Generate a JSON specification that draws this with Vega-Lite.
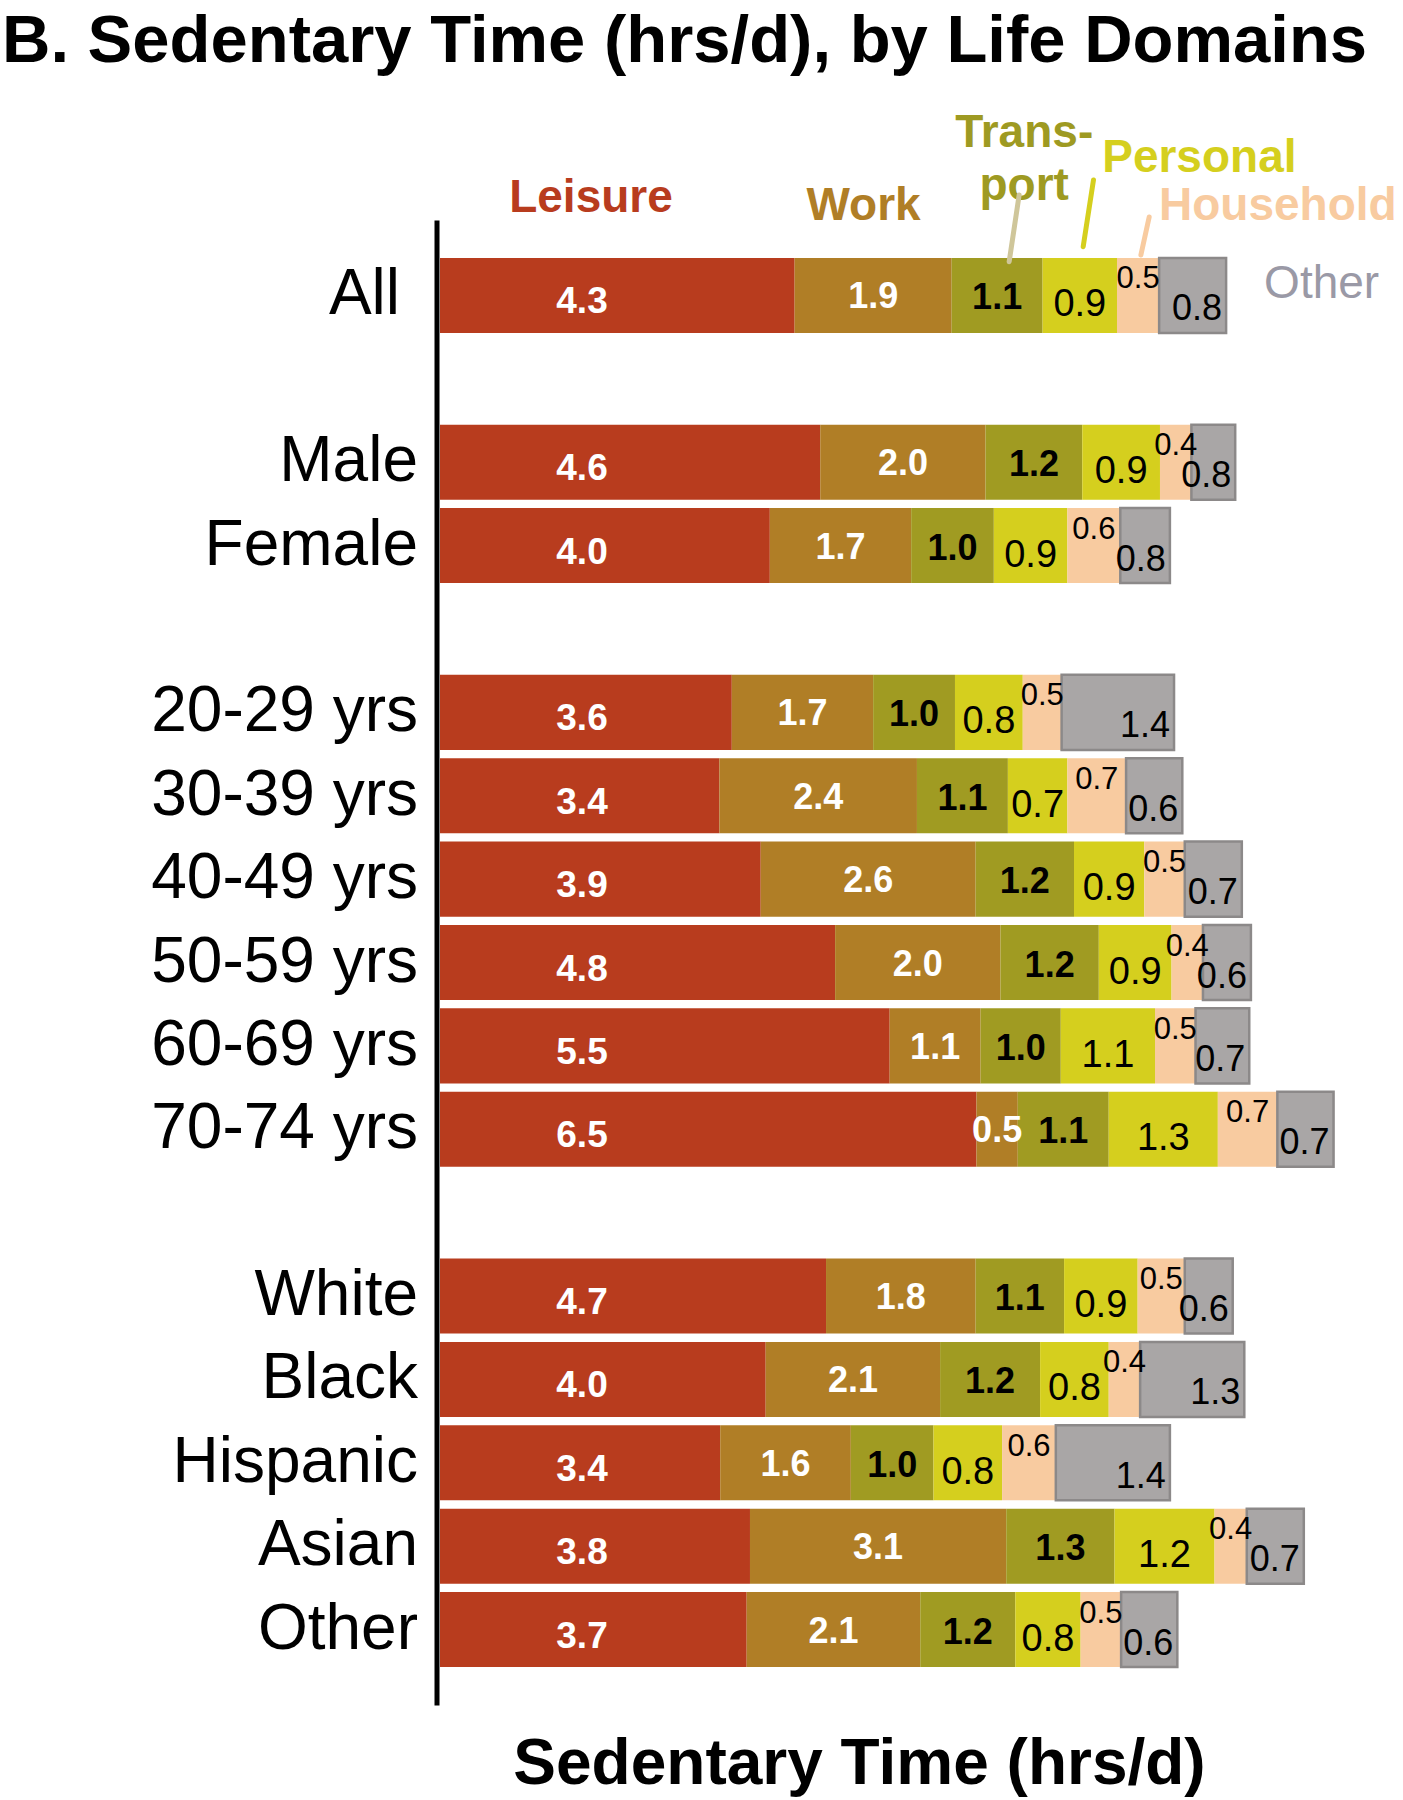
{
  "$schema": "https://vega.github.io/schema/vega-lite/v6.json",
  "autosize": {"type": "none"},
  "padding": {"left": 440, "top": 220, "right": 0, "bottom": 95},
  "width": 963,
  "height": 1485,
  "background": "white",
  "config": {"view": {"stroke": null}, "font": "Liberation Sans"},
  "title": {
    "text": "B. Sedentary Time (hrs/d), by Life Domains",
    "anchor": "start", "frame": "group", "dx": -438, "dy": 19,
    "fontSize": 67, "font": "Liberation Sans", "fontWeight": "bold", "color": "black",
    "baseline": "alphabetic", "offset": 0
  },
  "data": {"values": [
    {"label": "All", "cat": "Leisure", "value": 4.3, "hrs": 4.29}, {"label": "All", "cat": "Work", "value": 1.9, "hrs": 1.90}, {"label": "All", "cat": "Transport", "value": 1.1, "hrs": 1.10}, {"label": "All", "cat": "Personal", "value": 0.9, "hrs": 0.90}, {"label": "All", "cat": "Household", "value": 0.5, "hrs": 0.51}, {"label": "All", "cat": "Other", "value": 0.8, "hrs": 0.81},
    {"label": "Male", "cat": "Leisure", "value": 4.6, "hrs": 4.60}, {"label": "Male", "cat": "Work", "value": 2.0, "hrs": 2.00}, {"label": "Male", "cat": "Transport", "value": 1.2, "hrs": 1.17}, {"label": "Male", "cat": "Personal", "value": 0.9, "hrs": 0.94}, {"label": "Male", "cat": "Household", "value": 0.4, "hrs": 0.38}, {"label": "Male", "cat": "Other", "value": 0.8, "hrs": 0.53},
    {"label": "Female", "cat": "Leisure", "value": 4.0, "hrs": 3.99}, {"label": "Female", "cat": "Work", "value": 1.7, "hrs": 1.71}, {"label": "Female", "cat": "Transport", "value": 1.0, "hrs": 1.00}, {"label": "Female", "cat": "Personal", "value": 0.9, "hrs": 0.89}, {"label": "Female", "cat": "Household", "value": 0.6, "hrs": 0.64}, {"label": "Female", "cat": "Other", "value": 0.8, "hrs": 0.60},
    {"label": "20-29 yrs", "cat": "Leisure", "value": 3.6, "hrs": 3.53}, {"label": "20-29 yrs", "cat": "Work", "value": 1.7, "hrs": 1.71}, {"label": "20-29 yrs", "cat": "Transport", "value": 1.0, "hrs": 0.99}, {"label": "20-29 yrs", "cat": "Personal", "value": 0.8, "hrs": 0.82}, {"label": "20-29 yrs", "cat": "Household", "value": 0.5, "hrs": 0.47}, {"label": "20-29 yrs", "cat": "Other", "value": 1.4, "hrs": 1.36},
    {"label": "30-39 yrs", "cat": "Leisure", "value": 3.4, "hrs": 3.38}, {"label": "30-39 yrs", "cat": "Work", "value": 2.4, "hrs": 2.39}, {"label": "30-39 yrs", "cat": "Transport", "value": 1.1, "hrs": 1.10}, {"label": "30-39 yrs", "cat": "Personal", "value": 0.7, "hrs": 0.72}, {"label": "30-39 yrs", "cat": "Household", "value": 0.7, "hrs": 0.71}, {"label": "30-39 yrs", "cat": "Other", "value": 0.6, "hrs": 0.68},
    {"label": "40-49 yrs", "cat": "Leisure", "value": 3.9, "hrs": 3.88}, {"label": "40-49 yrs", "cat": "Work", "value": 2.6, "hrs": 2.60}, {"label": "40-49 yrs", "cat": "Transport", "value": 1.2, "hrs": 1.19}, {"label": "40-49 yrs", "cat": "Personal", "value": 0.9, "hrs": 0.85}, {"label": "40-49 yrs", "cat": "Household", "value": 0.5, "hrs": 0.49}, {"label": "40-49 yrs", "cat": "Other", "value": 0.7, "hrs": 0.69},
    {"label": "50-59 yrs", "cat": "Leisure", "value": 4.8, "hrs": 4.78}, {"label": "50-59 yrs", "cat": "Work", "value": 2.0, "hrs": 2.00}, {"label": "50-59 yrs", "cat": "Transport", "value": 1.2, "hrs": 1.19}, {"label": "50-59 yrs", "cat": "Personal", "value": 0.9, "hrs": 0.88}, {"label": "50-59 yrs", "cat": "Household", "value": 0.4, "hrs": 0.38}, {"label": "50-59 yrs", "cat": "Other", "value": 0.6, "hrs": 0.58},
    {"label": "60-69 yrs", "cat": "Leisure", "value": 5.5, "hrs": 5.44}, {"label": "60-69 yrs", "cat": "Work", "value": 1.1, "hrs": 1.10}, {"label": "60-69 yrs", "cat": "Transport", "value": 1.0, "hrs": 0.97}, {"label": "60-69 yrs", "cat": "Personal", "value": 1.1, "hrs": 1.14}, {"label": "60-69 yrs", "cat": "Household", "value": 0.5, "hrs": 0.49}, {"label": "60-69 yrs", "cat": "Other", "value": 0.7, "hrs": 0.65},
    {"label": "70-74 yrs", "cat": "Leisure", "value": 6.5, "hrs": 6.49}, {"label": "70-74 yrs", "cat": "Work", "value": 0.5, "hrs": 0.50}, {"label": "70-74 yrs", "cat": "Transport", "value": 1.1, "hrs": 1.10}, {"label": "70-74 yrs", "cat": "Personal", "value": 1.3, "hrs": 1.32}, {"label": "70-74 yrs", "cat": "Household", "value": 0.7, "hrs": 0.72}, {"label": "70-74 yrs", "cat": "Other", "value": 0.7, "hrs": 0.68},
    {"label": "White", "cat": "Leisure", "value": 4.7, "hrs": 4.67}, {"label": "White", "cat": "Work", "value": 1.8, "hrs": 1.81}, {"label": "White", "cat": "Transport", "value": 1.1, "hrs": 1.07}, {"label": "White", "cat": "Personal", "value": 0.9, "hrs": 0.89}, {"label": "White", "cat": "Household", "value": 0.5, "hrs": 0.57}, {"label": "White", "cat": "Other", "value": 0.6, "hrs": 0.58},
    {"label": "Black", "cat": "Leisure", "value": 4.0, "hrs": 3.94}, {"label": "Black", "cat": "Work", "value": 2.1, "hrs": 2.11}, {"label": "Black", "cat": "Transport", "value": 1.2, "hrs": 1.21}, {"label": "Black", "cat": "Personal", "value": 0.8, "hrs": 0.83}, {"label": "Black", "cat": "Household", "value": 0.4, "hrs": 0.38}, {"label": "Black", "cat": "Other", "value": 1.3, "hrs": 1.26},
    {"label": "Hispanic", "cat": "Leisure", "value": 3.4, "hrs": 3.39}, {"label": "Hispanic", "cat": "Work", "value": 1.6, "hrs": 1.58}, {"label": "Hispanic", "cat": "Transport", "value": 1.0, "hrs": 1.00}, {"label": "Hispanic", "cat": "Personal", "value": 0.8, "hrs": 0.83}, {"label": "Hispanic", "cat": "Household", "value": 0.6, "hrs": 0.65}, {"label": "Hispanic", "cat": "Other", "value": 1.4, "hrs": 1.38},
    {"label": "Asian", "cat": "Leisure", "value": 3.8, "hrs": 3.75}, {"label": "Asian", "cat": "Work", "value": 3.1, "hrs": 3.10}, {"label": "Asian", "cat": "Transport", "value": 1.3, "hrs": 1.31}, {"label": "Asian", "cat": "Personal", "value": 1.2, "hrs": 1.21}, {"label": "Asian", "cat": "Household", "value": 0.4, "hrs": 0.39}, {"label": "Asian", "cat": "Other", "value": 0.7, "hrs": 0.69},
    {"label": "Other", "cat": "Leisure", "value": 3.7, "hrs": 3.71}, {"label": "Other", "cat": "Work", "value": 2.1, "hrs": 2.10}, {"label": "Other", "cat": "Transport", "value": 1.2, "hrs": 1.15}, {"label": "Other", "cat": "Personal", "value": 0.8, "hrs": 0.79}, {"label": "Other", "cat": "Household", "value": 0.5, "hrs": 0.49}, {"label": "Other", "cat": "Other", "value": 0.6, "hrs": 0.68}
  ]},
  "transform": [{"stack": "hrs", "groupby": ["label"], "as": ["start", "end"]}],
  "encoding": {
    "y": {
      "field": "label", "type": "nominal",
      "scale": {
        "domain": ["All", " ", "Male", "Female", "  ", "20-29 yrs", "30-39 yrs", "40-49 yrs", "50-59 yrs", "60-69 yrs", "70-74 yrs", "   ", "White", "Black", "Hispanic", "Asian", "Other"],
        "paddingInner": 0.1, "paddingOuter": 0.455
      },
      "axis": {
        "title": null, "domainColor": "black", "domainWidth": 5, "ticks": false, "tickSize": 0,
        "labelFontSize": 64, "labelFont": "Liberation Sans", "labelColor": "black",
        "labelPadding": {"condition": {"test": "datum.value === 'All'", "value": 37}, "value": 19},
        "offset": 3.5, "labelLimit": 0, "labelOverlap": false
      }
    }
  },
  "layer": [
    {
      "mark": {"type": "bar", "strokeWidth": 2.5},
      "encoding": {
        "x": {
          "field": "start", "type": "quantitative",
          "scale": {"domain": [0, 11.65], "nice": false, "zero": true},
          "axis": {
            "orient": "bottom", "domain": false, "ticks": false, "labels": false, "grid": false,
            "title": "Sedentary Time (hrs/d)", "titleFontSize": 64, "titleFontWeight": "bold",
            "titleColor": "black", "titleFont": "Liberation Sans",
            "titleX": 419, "titleY": 78, "titleBaseline": "alphabetic", "titleAlign": "center"
          }
        },
        "x2": {"field": "end"},
        "color": {
          "field": "cat", "type": "nominal", "legend": null,
          "scale": {
            "domain": ["Leisure", "Work", "Transport", "Personal", "Household", "Other"],
            "range": ["#B83C1E", "#B07E26", "#A09B22", "#D5CF1E", "#F8CBA0", "#A9A6A6"]
          }
        },
        "stroke": {"condition": {"test": "datum.cat === 'Other'", "value": "#8C8989"}, "value": "transparent"}
      }
    },
    {
      "transform": [{"filter": "datum.cat === 'Leisure'"}],
      "mark": {"type": "text", "fontWeight": "bold", "fontSize": 37, "color": "white", "align": "center", "baseline": "middle", "dx": 142, "dy": 7},
      "encoding": {
        "x": {"field": "start", "type": "quantitative"},
        "text": {"field": "value", "type": "quantitative", "format": ".1f"}
      }
    },
    {
      "transform": [{"filter": "datum.cat === 'Work'"}, {"fold": ["start", "end"], "as": ["edge", "pos"]}],
      "mark": {"type": "text", "fontWeight": "bold", "fontSize": 36, "color": "white", "align": "center", "baseline": "middle", "dy": 2},
      "encoding": {
        "x": {"field": "pos", "type": "quantitative", "aggregate": "mean"},
        "text": {"field": "value", "type": "quantitative", "aggregate": "max", "format": ".1f"}
      }
    },
    {
      "transform": [{"filter": "datum.cat === 'Transport'"}, {"fold": ["start", "end"], "as": ["edge", "pos"]}],
      "mark": {"type": "text", "fontWeight": "bold", "fontSize": 36, "color": "black", "align": "center", "baseline": "middle", "dy": 3},
      "encoding": {
        "x": {"field": "pos", "type": "quantitative", "aggregate": "mean"},
        "text": {"field": "value", "type": "quantitative", "aggregate": "max", "format": ".1f"}
      }
    },
    {
      "transform": [{"filter": "datum.cat === 'Personal'"}, {"fold": ["start", "end"], "as": ["edge", "pos"]}],
      "mark": {"type": "text", "fontSize": 38, "color": "black", "align": "center", "baseline": "middle", "dy": 10},
      "encoding": {
        "x": {"field": "pos", "type": "quantitative", "aggregate": "mean"},
        "text": {"field": "value", "type": "quantitative", "aggregate": "max", "format": ".1f"}
      }
    },
    {
      "transform": [{"filter": "datum.cat === 'Household'"}, {"fold": ["start", "end"], "as": ["edge", "pos"]}],
      "mark": {"type": "text", "fontSize": 31, "color": "black", "align": "center", "baseline": "middle", "dy": -16},
      "encoding": {
        "x": {"field": "pos", "type": "quantitative", "aggregate": "mean"},
        "text": {"field": "value", "type": "quantitative", "aggregate": "max", "format": ".1f"}
      }
    },
    {
      "transform": [{"filter": "datum.cat === 'Other'"}],
      "mark": {"type": "text", "fontSize": 36, "color": "black", "align": "right", "baseline": "middle", "dx": -4, "dy": 14},
      "encoding": {
        "x": {"field": "end", "type": "quantitative"},
        "text": {"field": "value", "type": "quantitative", "format": ".1f"}
      }
    },
    {
      "transform": [{"filter": "datum.label === 'All' && datum.cat === 'Leisure'"}],
      "mark": {"type": "text", "fontWeight": "bold", "fontSize": 46, "color": "#B83C1E", "align": "center", "baseline": "alphabetic", "dx": 151, "dy": -83.5},
      "encoding": {"x": {"field": "start", "type": "quantitative"}, "text": {"field": "cat"}}
    },
    {
      "transform": [{"filter": "datum.label === 'All' && datum.cat === 'Work'"}],
      "mark": {"type": "text", "fontWeight": "bold", "fontSize": 46, "color": "#B07E26", "align": "center", "baseline": "alphabetic", "dx": 69, "dy": -75},
      "encoding": {"x": {"field": "start", "type": "quantitative"}, "text": {"field": "cat"}}
    },
    {
      "transform": [{"filter": "datum.label === 'All' && datum.cat === 'Transport'"}],
      "mark": {"type": "text", "fontWeight": "bold", "fontSize": 46, "color": "#9E9A22", "align": "center", "baseline": "alphabetic", "lineHeight": 53, "dx": 72.5, "dy": -148.8},
      "encoding": {"x": {"field": "start", "type": "quantitative"}, "text": {"value": ["Trans-", "port"]}}
    },
    {
      "transform": [{"filter": "datum.label === 'All' && datum.cat === 'Personal'"}],
      "mark": {"type": "text", "fontWeight": "bold", "fontSize": 46, "color": "#D5CF1E", "align": "left", "baseline": "alphabetic", "dx": 59.6, "dy": -123.8},
      "encoding": {"x": {"field": "start", "type": "quantitative"}, "text": {"field": "cat"}}
    },
    {
      "transform": [{"filter": "datum.label === 'All' && datum.cat === 'Household'"}],
      "mark": {"type": "text", "fontWeight": "bold", "fontSize": 46, "color": "#F8CBA0", "align": "left", "baseline": "alphabetic", "dx": 42, "dy": -75.5},
      "encoding": {"x": {"field": "start", "type": "quantitative"}, "text": {"field": "cat"}}
    },
    {
      "transform": [{"filter": "datum.label === 'All' && datum.cat === 'Other'"}],
      "mark": {"type": "text", "fontSize": 46, "color": "#9A99A6", "align": "left", "baseline": "alphabetic", "dx": 38, "dy": 2.8},
      "encoding": {"x": {"field": "end", "type": "quantitative"}, "text": {"field": "cat"}}
    },
    {
      "transform": [{"filter": "datum.label === 'All' && datum.cat === 'Transport'"}],
      "mark": {"type": "rule", "color": "#CFC69A", "strokeWidth": 5, "strokeCap": "round", "xOffset": 57.5, "x2Offset": 67.5, "yOffset": -33.8, "y2Offset": -100.5},
      "encoding": {"x": {"field": "start", "type": "quantitative"}, "x2": {"field": "start"}, "y2": {"field": "label"}}
    },
    {
      "transform": [{"filter": "datum.label === 'All' && datum.cat === 'Personal'"}],
      "mark": {"type": "rule", "color": "#D5CF1E", "strokeWidth": 5, "strokeCap": "round", "xOffset": 40.6, "x2Offset": 50.9, "yOffset": -48.8, "y2Offset": -115.5},
      "encoding": {"x": {"field": "start", "type": "quantitative"}, "x2": {"field": "start"}, "y2": {"field": "label"}}
    },
    {
      "transform": [{"filter": "datum.label === 'All' && datum.cat === 'Household'"}],
      "mark": {"type": "rule", "color": "#F8CBA0", "strokeWidth": 5, "strokeCap": "round", "xOffset": 23.9, "x2Offset": 32.2, "yOffset": -40.5, "y2Offset": -78.5},
      "encoding": {"x": {"field": "start", "type": "quantitative"}, "x2": {"field": "start"}, "y2": {"field": "label"}}
    }
  ]
}
